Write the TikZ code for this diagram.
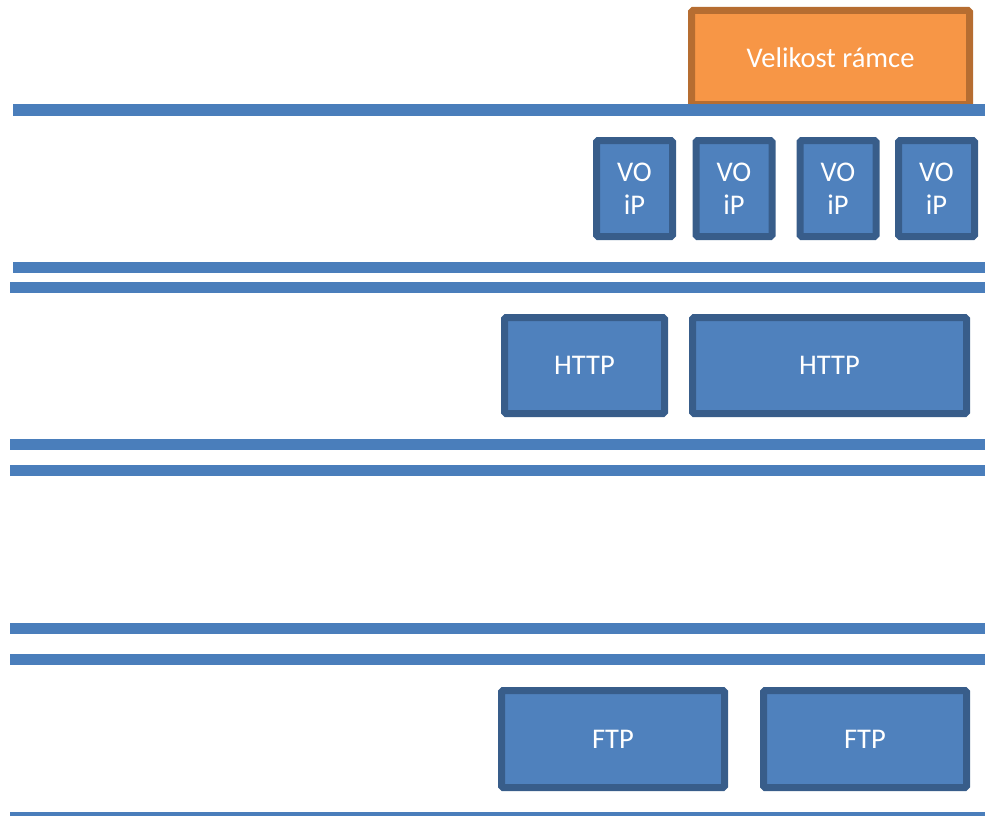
\documentclass[tikz,border=0pt]{standalone}
\usepackage{fontspec}
\setmainfont{Carlito}
\definecolor{barblue}{HTML}{4A7EBB}
\definecolor{boxblue}{HTML}{4F81BD}
\definecolor{boxedge}{HTML}{385D8A}
\definecolor{frameorange}{HTML}{F79646}
\definecolor{frameedge}{HTML}{B66D31}
\begin{document}
\begin{tikzpicture}[x=1pt,y=-1pt,
  bar/.style={fill=barblue},
  packet/.style={draw=boxedge, fill=boxblue, line width=7pt, rounded corners=1.5pt, inner sep=0pt, text=white, font=\fontsize{28.5}{33}\selectfont, align=center},
  framesize/.style={packet, draw=frameedge, fill=frameorange}]
\useasboundingbox (0,0) rectangle (985,816);

\node [framesize, minimum width=278, minimum height=94] (ramec) at (830.5,57.5) {Velikost rámce};

\fill [bar] (13,104) rectangle (985,116);
\fill [bar] (13,262) rectangle (985,273);
\fill [bar] (10,282) rectangle (985,293);
\fill [bar] (10,439) rectangle (985,450);
\fill [bar] (10,465) rectangle (985,476);
\fill [bar] (10,623) rectangle (985,634);
\fill [bar] (10,654) rectangle (985,665);
\fill [bar] (10,812) rectangle (985,816);

\node [packet, minimum width=76, minimum height=96] (voip1) at (634.5,188.5) {VO\\iP};
\node [packet, minimum width=76, minimum height=96] (voip2) at (734,188.5) {VO\\iP};
\node [packet, minimum width=76, minimum height=96] (voip3) at (838,188.5) {VO\\iP};
\node [packet, minimum width=76, minimum height=96] (voip4) at (936.5,188.5) {VO\\iP};

\node [packet, minimum width=160, minimum height=96] (http1) at (584.5,365.5) {HTTP};
\node [packet, minimum width=274, minimum height=96] (http2) at (829.5,365.5) {HTTP};

\node [packet, minimum width=223, minimum height=97] (ftp1) at (613,739) {FTP};
\node [packet, minimum width=203, minimum height=97] (ftp2) at (865,739) {FTP};

\end{tikzpicture}
\end{document}
